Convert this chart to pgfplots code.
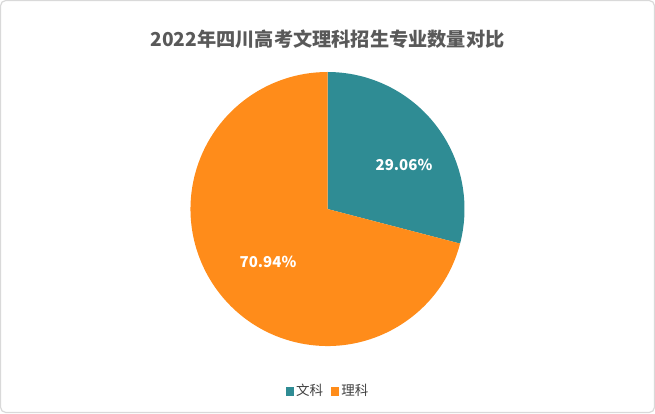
\documentclass[border=0pt]{standalone}
\usepackage{pgfplots}
\pgfplotsset{compat=1.18}
\usepackage{pgfplotstable}
\usepackage{fontspec}
\setmainfont{Noto Sans CJK SC}
\definecolor{wenke}{HTML}{2F8C94}
\definecolor{like}{HTML}{FF8C1A}
\definecolor{txt}{HTML}{595959}
\definecolor{legtxt}{HTML}{404040}
\definecolor{frame}{HTML}{D9D9D9}

% share (%) of each group
\pgfplotstableread{
name  share
wen   29.06
li    70.94
}\piedata

\begin{document}
\begin{tikzpicture}
\pgfplotstablegetelem{0}{share}\of\piedata \let\wen\pgfplotsretval
\pgfmathsetmacro{\cut}{90-3.6*\wen}
\useasboundingbox (0,0) rectangle (655pt,413pt);
\draw[frame, line width=1.2pt, rounded corners=5pt] (0.6pt,0.6pt) rectangle (654.4pt,412.4pt);
\begin{axis}[
  at={(0,0)}, anchor=south west,
  width=655pt, height=413pt, scale only axis,
  xmin=0, xmax=655, ymin=0, ymax=413,
  hide axis, clip=false,
  legend style={draw=none, fill=none, at={(axis cs:328,22)}, anchor=center,
    font=\fontsize{13.5}{15}\selectfont\color{legtxt}, legend columns=2,
    /tikz/every odd column/.append style={column sep=1pt},
    /tikz/every even column/.append style={column sep=6pt}},
  legend image code/.code={\fill[#1] (2pt,-3.7pt) rectangle (9pt,3.7pt);},
]
\addlegendimage{wenke, fill=wenke}
\addlegendentry{文科}
\addlegendimage{like, fill=like}
\addlegendentry{理科}
% pie slices, radius 137pt
\fill[wenke] (axis cs:327.5,204) -- ++(90:137pt) arc[start angle=90, end angle=\cut, radius=137pt] -- cycle;
\fill[like] (axis cs:327.5,204) -- ++(\cut:137pt) arc[start angle=\cut, end angle=-270, radius=137pt] -- cycle;
\node[white, font=\bfseries\fontsize{15}{17}\selectfont] at (axis cs:404,248) {29.06\%};
\node[white, font=\bfseries\fontsize{15}{17}\selectfont] at (axis cs:268,151) {70.94\%};
\node[txt, font=\bfseries\fontsize{19.2}{22}\selectfont] at (axis cs:327.5,374) {2022年四川高考文理科招生专业数量对比};
\end{axis}
\end{tikzpicture}
\end{document}
